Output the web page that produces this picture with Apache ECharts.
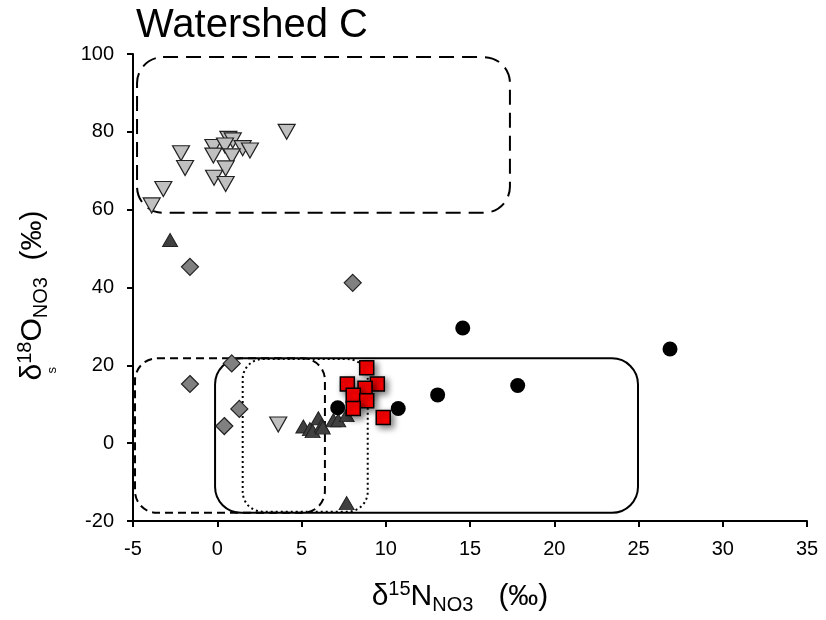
<!DOCTYPE html>
<html lang="en">
<head>
    <meta charset="UTF-8">
    <title>Watershed C</title>
    <script src="https://cdn.jsdelivr.net/npm/echarts@6/dist/echarts.min.js"></script>
    <style>
        html, body { margin: 0; padding: 0; background: #fff; }
        #main { width: 826px; height: 620px; }
    </style>
</head>
<body>
<div id="main"></div>
<script type="text/javascript">
    // data: [d15N, d18O]
    var invTriangles = [
        [4.12, 80.0], [0.66, 78.2], [0.92, 77.8], [-0.23, 76.1], [0.46, 76.5],
        [1.51, 75.8], [1.94, 75.2], [-2.15, 74.5], [-0.23, 73.9], [0.86, 73.7],
        [-1.91, 70.7], [0.5, 70.6], [-0.19, 68.2], [0.5, 66.6], [-3.2, 65.3],
        [-3.89, 61.1], [3.62, 4.8]
    ];
    var darkTriangles = [
        [-2.8, 52.2], [7.68, -15.4], [5.11, 4.3], [5.5, 3.6], [5.66, 3.1],
        [6.0, 6.4], [6.2, 4.5], [6.26, 4.0], [6.89, 5.9], [7.18, 5.9], [7.68, 7.2]
    ];
    var diamonds = [
        [-1.62, 45.3], [8.04, 41.2], [-1.62, 15.2], [0.86, 20.5], [1.31, 8.8], [0.42, 4.4]
    ];
    var redSquares = [
        [8.87, 19.4], [7.72, 15.2], [9.5, 15.2], [8.77, 14.1],
        [8.07, 12.3], [8.87, 10.9], [8.07, 8.9], [9.85, 6.6]
    ];
    var circles = [
        [7.15, 9.1], [10.74, 8.9], [13.08, 12.4], [14.57, 29.6], [17.83, 14.8], [26.87, 24.2]
    ];
    // source boxes: [xmin, xmax, ymin, ymax]
    var boxLongDash = [-4.76, 17.37, 59.2, 99.2];
    var boxShortDash = [-4.88, 6.39, -17.9, 21.8];
    var boxSolid = [-0.13, 24.97, -17.9, 21.8];
    var boxDotted = [1.51, 8.93, -17.6, 21.6];

    var myChart = echarts.init(document.getElementById('main'));
    var font = 'Liberation Sans, Arial, sans-serif';

    var richTitle = {
        a: { fontFamily: font, fontSize: 30, color: '#000', lineHeight: 36 },
        sup: { fontFamily: font, fontSize: 20, color: '#000', verticalAlign: 'top', lineHeight: 36, padding: [0, 0, 10, 0] },
        sub: { fontFamily: font, fontSize: 20, color: '#000', verticalAlign: 'bottom', lineHeight: 36, padding: [13, 0, 0, 0] }
    };

    myChart.setOption({
        animation: false,
        title: {
            text: 'Watershed C',
            left: 131,
            top: 1,
            textStyle: { fontFamily: font, fontSize: 40, fontWeight: 'normal', color: '#000' }
        },
        grid: { left: 133, right: 19, top: 54, bottom: 96 },
        xAxis: {
            type: 'value',
            min: -5, max: 35, interval: 5,
            splitLine: { show: false },
            axisLine: { onZero: false, lineStyle: { color: '#000', width: 2 } },
            axisTick: { show: true, length: 6, lineStyle: { color: '#000', width: 2 } },
            axisLabel: { fontFamily: font, fontSize: 20, color: '#000', margin: 18 },
            name: '{a|δ}{sup|15}{a|N}{sub|NO3}{a|   (‰)}',
            nameLocation: 'middle',
            nameGap: 58,
            nameTextStyle: { rich: richTitle, padding: [0, 20, 0, 0] }
        },
        yAxis: {
            type: 'value',
            min: -20, max: 100, interval: 20,
            splitLine: { show: false },
            axisLine: { onZero: false, lineStyle: { color: '#000', width: 2 } },
            axisTick: { show: true, length: 6, lineStyle: { color: '#000', width: 2 } },
            axisLabel: { fontFamily: font, fontSize: 20, color: '#000', margin: 19 },
            name: '{a|δ}{sup|18}{a|O}{sub|NO3}{a|  (‰)}',
            nameLocation: 'middle',
            nameRotate: 90,
            nameGap: 82,
            nameTextStyle: { rich: richTitle, padding: [0, 16, 0, 0] }
        },
        series: [
            {
                type: 'scatter', data: invTriangles,
                symbol: 'triangle', symbolRotate: 180, symbolSize: [17, 15],
                itemStyle: { color: '#c0c0c0', borderColor: '#222', borderWidth: 1.2, opacity: 1 }
            },
            {
                type: 'scatter', data: darkTriangles,
                symbol: 'triangle', symbolSize: [15, 13],
                itemStyle: { color: '#404040', borderColor: '#222', borderWidth: 1, opacity: 1 }
            },
            {
                type: 'scatter', data: diamonds,
                symbol: 'diamond', symbolSize: [17, 17],
                itemStyle: { color: '#808080', borderColor: '#222', borderWidth: 1.2, opacity: 1 }
            },
            {
                type: 'scatter', data: circles,
                symbol: 'circle', symbolSize: 15,
                itemStyle: { color: '#000', opacity: 1 }
            },
            {
                type: 'scatter', data: redSquares,
                symbol: 'rect', symbolSize: 14,
                itemStyle: {
                    color: '#ff0000', borderColor: '#000', borderWidth: 1.5, opacity: 1,
                    shadowBlur: 6, shadowOffsetX: 3, shadowOffsetY: 3, shadowColor: 'rgba(0,0,0,0.5)'
                }
            }
        ]
    });

    function boxRect(b, dash, r) {
        var p1 = myChart.convertToPixel({ gridIndex: 0 }, [b[0], b[3]]);
        var p2 = myChart.convertToPixel({ gridIndex: 0 }, [b[1], b[2]]);
        return {
            type: 'rect',
            z: 0,
            silent: true,
            shape: { x: p1[0], y: p1[1], width: p2[0] - p1[0], height: p2[1] - p1[1], r: r },
            style: { fill: 'none', stroke: '#000', lineWidth: 2, lineDash: dash }
        };
    }

    myChart.setOption({
        graphic: [
            boxRect(boxLongDash, [15, 8], 26),
            boxRect(boxShortDash, [8, 5], 22),
            boxRect(boxSolid, null, 26),
            boxRect(boxDotted, [2, 3], 20),
            {
                type: 'text', left: 46, top: 367, rotation: Math.PI / 2,
                style: { text: 's', font: '13px Liberation Sans, Arial, sans-serif', fill: '#000' }
            }
        ]
    });
</script>
</body>
</html>
